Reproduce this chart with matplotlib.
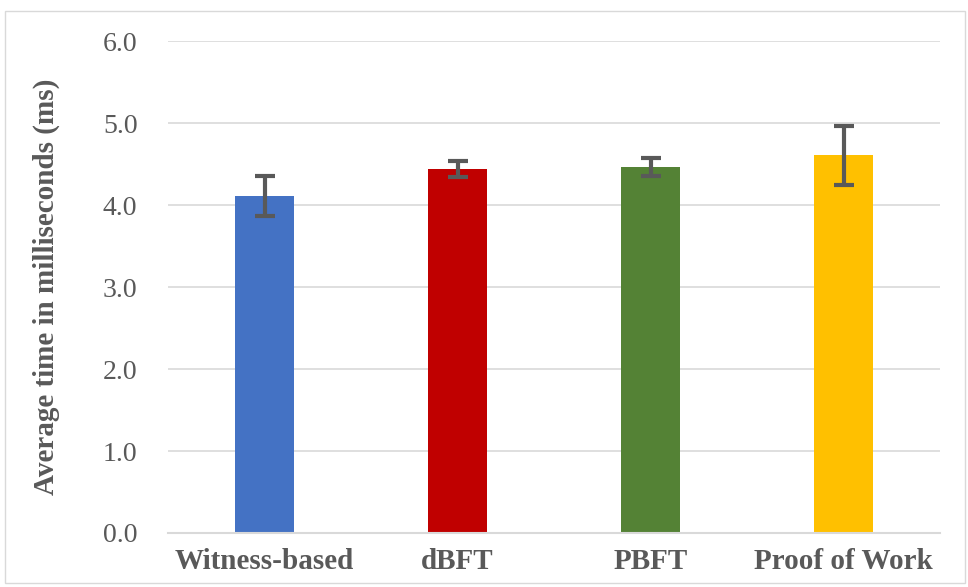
import matplotlib.pyplot as plt
from matplotlib.patches import Rectangle

methods = ["Witness-based", "dBFT", "PBFT", "Proof of Work"]
avg_ms = [4.11, 4.44, 4.47, 4.61]
err_ms = [0.24, 0.10, 0.11, 0.36]
colors = ["#4472C4", "#C00000", "#548235", "#FFC000"]

plt.rcParams['font.family'] = ['Liberation Serif', 'DejaVu Serif']

fig = plt.figure(figsize=(9.68, 5.87), dpi=100)
ax = fig.add_axes([0.1736, 0.092, 0.7975, 0.838])

x = range(len(methods))
ax.bar(x, avg_ms, width=0.31, color=colors, zorder=2)
ax.errorbar(x, avg_ms, yerr=err_ms, fmt="none", ecolor="#595959",
            elinewidth=3, capsize=7, capthick=3, zorder=3)

ax.set_ylim(0, 6)
ax.set_xlim(-0.5, 3.5)
ax.set_yticks([0, 1, 2, 3, 4, 5, 6])
ax.set_yticklabels(["%.1f" % v for v in ax.get_yticks()])
ax.set_xticks(list(x))
ax.set_xticklabels(methods, fontweight="bold", fontsize=21, color="#595959")
ax.tick_params(axis="y", labelsize=20, labelcolor="#595959", length=0, pad=22)
ax.tick_params(axis="x", length=0, pad=11)
ax.yaxis.grid(True, color="#D9D9D9", linewidth=1.2, zorder=0)
ax.set_axisbelow(True)
for s in ["top", "right", "left"]:
    ax.spines[s].set_visible(False)
ax.spines["bottom"].set_color("#D9D9D9")
ax.spines["bottom"].set_linewidth(1.5)
ax.set_ylabel("Average time in milliseconds (ms)", fontweight="bold",
              fontsize=21, color="#595959", labelpad=31)

fig.patches.append(Rectangle((5 / 968, 4 / 587), 960 / 968, 572 / 587,
                             transform=fig.transFigure, fill=False,
                             edgecolor="#D9D9D9", linewidth=1))

plt.savefig("out.png")
